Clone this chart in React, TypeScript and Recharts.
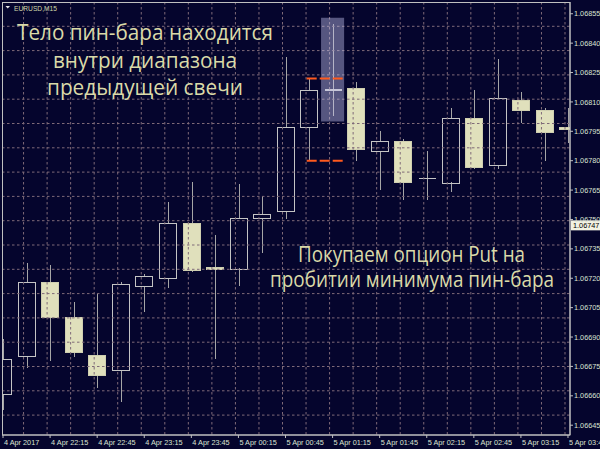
import React from "react";
import {
  ComposedChart, Bar, XAxis, YAxis, CartesianGrid, ReferenceArea, ReferenceLine,
} from "recharts";

// EURUSD M15 candles, 4 Apr 21:45 .. 5 Apr 03:45
const opens = [1.06661, 1.0668, 1.06718, 1.067, 1.06681, 1.06673, 1.06716, 1.0672, 1.06748, 1.06726, 1.06725, 1.06751, 1.06754, 1.06797, 1.06816, 1.06817, 1.06785, 1.0679, 1.06771, 1.06769, 1.06802, 1.06778, 1.06811, 1.06806, 1.06797];
const highs = [1.06689, 1.06728, 1.06727, 1.06708, 1.06712, 1.06718, 1.06722, 1.06759, 1.06769, 1.06742, 1.06768, 1.06762, 1.06833, 1.06822, 1.0685, 1.0682, 1.06795, 1.06791, 1.06785, 1.06807, 1.06816, 1.06832, 1.06815, 1.06807, 1.06807];
const lows = [1.06653, 1.06674, 1.06678, 1.0668, 1.06664, 1.06657, 1.06703, 1.06715, 1.06723, 1.06679, 1.06716, 1.06733, 1.0675, 1.0678, 1.06803, 1.0678, 1.06765, 1.0676, 1.0676, 1.06764, 1.06776, 1.06776, 1.06799, 1.0678, 1.06789];
const closes = [1.06679, 1.06718, 1.067, 1.06682, 1.06671, 1.06717, 1.06721, 1.06748, 1.06724, 1.06725, 1.06751, 1.06753, 1.06797, 1.06816, 1.06816, 1.06786, 1.0679, 1.06769, 1.06771, 1.06802, 1.06777, 1.06812, 1.06806, 1.06795, 1.06796];

const timeTicks = ["4 Apr 2017", "4 Apr 22:15", "4 Apr 22:45", "4 Apr 23:15", "4 Apr 23:45", "5 Apr 00:15", "5 Apr 00:45", "5 Apr 01:15", "5 Apr 01:45", "5 Apr 02:15", "5 Apr 02:45", "5 Apr 03:15", "5 Apr 03:45"];
const priceTicks = [1.06855, 1.0684, 1.06825, 1.0681, 1.06795, 1.0678, 1.06765, 1.0675, 1.06735, 1.0672, 1.06705, 1.0669, 1.06675, 1.0666, 1.06645];
const lastPrice = 1.06747;
const pinIndex = 14;

const BG = "#05052d";
const GRID = "#7f6a78";
const BEIGE = "#e0e0bc";
const OUTLINE = "#c4c4c4";
const WICK = "#a6a6a6";
const AXIS = "#c0c0c0";
const LABEL = "#dae2d2";
const NOTE = "#dadaa8";
const ORANGE = "#ff5a1e";

const W = 600;
const H = 449;
const PLOT = { left: 2, top: 2, width: 568, height: 433 };
const X_DOMAIN: [number, number] = [-0.043, 24.085];
const Y_DOMAIN: [number, number] = [1.0664, 1.06861];

const data = opens.map((o, i) => ({
  i, o, h: highs[i], l: lows[i], c: closes[i], hl: [lows[i], highs[i]],
}));

// grid in MT4 is a fixed pixel grid, not tied to price
const xPix = (v: number) => PLOT.left + ((v - X_DOMAIN[0]) / (X_DOMAIN[1] - X_DOMAIN[0])) * PLOT.width;
const vGrid = data.slice(1).map((d) => xPix(d.i) - 3);
const hGrid: number[] = [];
for (let y = PLOT.top + 24.3; y < PLOT.top + PLOT.height - 5; y += 24.3) hGrid.push(y);

function Candle(props: any) {
  const { x, y, width, height, payload } = props;
  if (x == null || y == null || !payload) return null;
  const top = Math.min(y, y + height);
  const span = Math.abs(height);
  const k = span / (payload.h - payload.l);
  const yo = top + (payload.h - payload.o) * k;
  const yc = top + (payload.h - payload.c) * k;
  const bt = Math.min(yo, yc);
  const bb = Math.max(yo, yc);
  const cx = Math.round(x + width / 2) + 0.5;
  const left = Math.round(x) + 0.5;
  const w = Math.round(width) - 1;
  const bull = payload.c > payload.o;
  const doji = payload.c === payload.o;
  const flat = bb - bt < 1.5;
  return (
    <g shapeRendering="crispEdges">
      <line x1={cx} x2={cx} y1={top} y2={bt} stroke={WICK} />
      <line x1={cx} x2={cx} y1={bb} y2={top + span} stroke={WICK} />
      {flat ? (
        <line
          x1={left} x2={left + w} y1={(bt + bb) / 2} y2={(bt + bb) / 2}
          stroke={doji || bull ? OUTLINE : BEIGE}
          strokeWidth={doji ? 1.5 : 2}
        />
      ) : (
        <rect
          x={left} y={Math.round(bt) + 0.5} width={w} height={Math.round(bb - bt)}
          fill={bull ? "none" : BEIGE} stroke={bull ? OUTLINE : "#cfcfb0"}
        />
      )}
    </g>
  );
}

const XTick = (props: any) => {
  const { x, y, payload } = props;
  return (
    <text x={x + 1} y={y + 7} textAnchor="start" fontSize={7.3} fontFamily="Liberation Sans" fill={LABEL}>
      {timeTicks[Math.round(payload.value / 2)]}
    </text>
  );
};

const YTick = (props: any) => {
  const { x, y, payload } = props;
  return (
    <text x={x} y={y + 2.6} textAnchor="start" fontSize={7.3} fontFamily="Liberation Sans" fill={LABEL}>
      {Number(payload.value).toFixed(5)}
    </text>
  );
};

const PriceTag = (props: any) => {
  const vb = props.viewBox;
  if (!vb) return null;
  const x = vb.x + vb.width;
  return (
    <g>
      <rect x={x + 1} y={vb.y - 5} width={30} height={10} fill="#f2f2e2" />
      <text x={x + 3} y={vb.y + 2.6} fontSize={7.3} fontFamily="Liberation Sans" fill="#000">
        {lastPrice.toFixed(5)}
      </text>
    </g>
  );
};

export default function App() {
  const hi = highs[pinIndex - 1];
  const lo = lows[pinIndex - 1];
  return (
    <div style={{ position: "absolute", left: 0, top: 0, width: W, height: H, background: BG, overflow: "hidden" }}>
      <ComposedChart width={W} height={H} data={data} margin={{ top: 2, right: 0, left: 2, bottom: 0 }}>
        <XAxis
          dataKey="i" type="number" domain={X_DOMAIN} allowDataOverflow
          ticks={timeTicks.map((_, k) => k * 2)} interval={0}
          height={14} tickSize={3} tickMargin={0}
          stroke={AXIS} tickLine={{ stroke: AXIS }} tick={<XTick />}
        />
        <YAxis
          orientation="right" type="number" domain={Y_DOMAIN} allowDataOverflow
          ticks={priceTicks} interval={0} width={30} tickSize={3} tickMargin={1}
          stroke={AXIS} tickLine={{ stroke: AXIS }} tick={<YTick />}
        />
        <Bar dataKey="hl" barSize={18} shape={<Candle />} isAnimationActive={false} />
        <CartesianGrid
          horizontalPoints={hGrid} verticalPoints={vGrid}
          stroke={GRID} strokeDasharray="2.5 2.5" zIndex={350}
        />
        <ReferenceArea
          x1={pinIndex - 0.49} x2={pinIndex + 0.49} y1={1.068} y2={1.06853}
          fill="#c8c8f2" fillOpacity={0.42} stroke="none" zIndex={400}
        />
        <ReferenceLine
          segment={[{ x: pinIndex - 1.1, y: hi }, { x: pinIndex + 0.45, y: hi }]}
          stroke={ORANGE} strokeWidth={2} strokeDasharray="10 3" zIndex={450}
        />
        <ReferenceLine
          segment={[{ x: pinIndex - 1.1, y: lo }, { x: pinIndex + 0.45, y: lo }]}
          stroke={ORANGE} strokeWidth={2} strokeDasharray="10 3" zIndex={450}
        />
        <ReferenceLine y={lastPrice} stroke="none" label={<PriceTag />} zIndex={450} />
      </ComposedChart>
      <svg width={W} height={H} style={{ position: "absolute", left: 0, top: 0, pointerEvents: "none" }}>
        <rect x={2.5} y={2.5} width={567.5} height={432.5} fill="none" stroke={AXIS} />
        <polygon points="5.5,6 10,6 7.75,8.5" fill="#e8e8e8" />
        <text x={14} y={11} fontSize={7.5} fontFamily="Liberation Sans" fill="#cfd6a8" textLength={43} lengthAdjust="spacingAndGlyphs">
          EURUSD,M15
        </text>
        <g fontFamily="Open Sans" fontSize={21} fill={NOTE}>
          <text x={17} y={40} textLength={256} lengthAdjust="spacingAndGlyphs">Тело пин-бара находится</text>
          <text x={53} y={68} textLength={184} lengthAdjust="spacingAndGlyphs">внутри диапазона</text>
          <text x={47} y={95} textLength={196} lengthAdjust="spacingAndGlyphs">предыдущей свечи</text>
          <text x={298} y={262} textLength={227} lengthAdjust="spacingAndGlyphs">Покупаем опцион Put на</text>
          <text x={270} y={287} textLength={284} lengthAdjust="spacingAndGlyphs">пробитии минимума пин-бара</text>
        </g>
      </svg>
    </div>
  );
}
